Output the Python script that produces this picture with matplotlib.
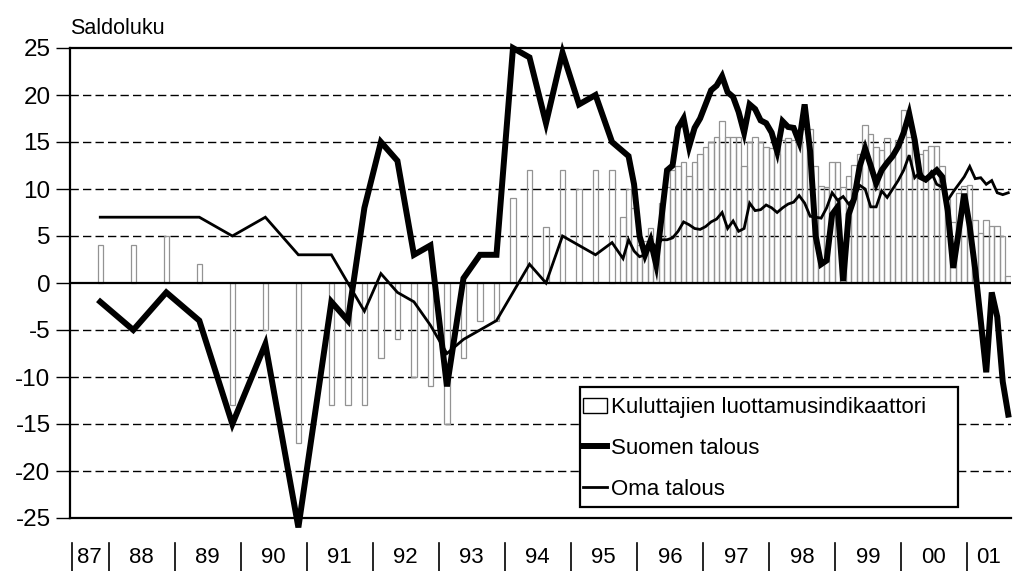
import matplotlib
matplotlib.use('Agg')
import matplotlib.pyplot as plt
import matplotlib.transforms as mtransforms
from matplotlib.patches import Patch, Rectangle
from matplotlib.lines import Line2D
import pandas as pd

plt.rcParams['font.family'] = ['Liberation Sans', 'DejaVu Sans']

# ---------------- data ----------------
early_months = ['1987-11', '1988-05', '1988-11', '1989-05', '1989-11', '1990-05',
                '1990-11', '1991-05', '1991-08', '1991-11', '1992-02', '1992-05',
                '1992-08', '1992-11', '1993-02', '1993-05', '1993-08', '1993-11',
                '1994-02', '1994-05', '1994-08', '1994-11', '1995-02', '1995-05',
                '1995-08']
monthly_months = [str(p) for p in pd.period_range('1995-10', '2001-08', freq='M')]

luottamus_early = [4, 4, 5, 2, -13, -5, -17, -13, -13, -13, -8, -6, -10, -11, -15,
                   -8, -4, -4, 9, 12, 6, 12, 10, 12, 12]
luottamus_monthly = [
    7, 10, 8,                                                   # 1995 Oct-Dec
    4, 4.5, 5.8, 4, 8.5, 10.2, 12, 12.4, 12.9, 11.4, 12.9, 13.7,  # 1996
    14.5, 15, 15.5, 17.2, 15.5, 15.5, 15.5, 12.4, 15, 15.5, 15, 14.5,  # 1997
    14.4, 13.7, 15.2, 15.4, 15.2, 15.5, 16.4, 16.4, 12.4, 10.3, 10.2, 12.9,  # 1998
    12.9, 10.2, 11.4, 12.6, 13.7, 16.8, 15.9, 14.5, 14.2, 15.4, 13.7, 15.2,  # 1999
    18.4, 15.5, 14.5, 13.7, 14.2, 14.6, 14.6, 12.5, 8.9, 6.5, 9.6, 10.3,  # 2000
    10.4, 6.7, 5.3, 6.7, 6.1, 6.1, 5.0, 0.7]                     # 2001 Jan-Aug

suomen_early = [-2, -5, -1, -4, -15, -6.5, -26, -2, -4, 8, 15, 13, 3, 4, -11,
                0.5, 3, 3, 25, 24, 17, 24.5, 19, 20, 15]
suomen_monthly = [
    14, 13.5, 10.5,
    5, 3, 4.5, 2, 7, 12, 12.5, 16.5, 17.5, 14.5, 16.5, 17.5,
    19, 20.5, 21, 22, 20.3, 19.8, 18.2, 16, 19, 18.5, 17.3, 17,
    16, 14, 17.2, 16.6, 16.5, 15, 19, 14, 5, 2, 2.4, 7.3,
    8.1, 0.2, 7.3, 9, 12.4, 14.3, 12.5, 10.6, 12, 12.8, 13.5, 14.5,
    16, 18, 15.2, 11.3, 11, 11.5, 12, 11.3, 7.7, 1.6, 5.5, 9.5,
    6, 1.4, -4, -9.5, -1, -3.6, -10.5, -14]

oma_early = [7, 7, 7, 7, 5, 7, 3, 3, 0, -3, 1, -1, -2, -4.5, -7.5, -6, -5, -4,
             -1, 2, 0, 5, 4, 3, 4.3]
oma_monthly = [
    2.6, 4.6, 3.4,
    2.8, 3.0, 4.5, 3.8, 4.6, 4.6, 4.8, 5.5, 6.5, 6.2, 5.8, 5.7,
    6.0, 6.5, 6.8, 7.5, 5.8, 6.6, 5.5, 5.8, 8.5, 7.7, 7.8, 8.3,
    8.0, 7.5, 8.0, 8.4, 8.6, 9.3, 8.5, 7.1, 7.0, 6.9, 8.0, 9.6,
    8.8, 9.2, 8.4, 9.0, 10.4, 10.0, 8.1, 8.1, 9.8, 9.1, 10.0, 10.9,
    12.0, 13.6, 11.2, 11.8, 10.9, 11.8, 10.5, 10.2, 8.8, 9.7, 10.5, 11.3,
    12.4, 11.1, 11.2, 10.5, 10.9, 9.6, 9.4, 9.6]

year_labels = ['87', '88', '89', '90', '91', '92', '93', '94', '95', '96', '97',
               '98', '99', '00', '01']
y_ticks = [25, 20, 15, 10, 5, 0, -5, -10, -15, -20, -25]

series_names = ['Kuluttajien luottamusindikaattori', 'Suomen talous', 'Oma talous']
y_title = 'Saldoluku'

# ---------------- helpers ----------------
def month_index(s):
    y, m = s.split('-')
    return (int(y) - 1988) * 12 + (int(m) - 1)

months = early_months + monthly_months
idx = [month_index(s) for s in months]
xc = [i + 0.5 for i in idx]
luottamus = luottamus_early + luottamus_monthly
suomen = suomen_early + suomen_monthly
oma = oma_early + oma_monthly

x_start = month_index('1987-06')
x_end = month_index('2001-08') + 1

# ---------------- figure ----------------
W, H = 1014, 571
fig = plt.figure(figsize=(W / 100, H / 100), dpi=100)
L, R, T, B = 70, 1011, 48, 518
ax = fig.add_axes([L / W, 1 - B / H, (R - L) / W, (B - T) / H])
ax.set_xlim(x_start, x_end)
ax.set_ylim(-25, 25)

for v in y_ticks:
    if v in (25, -25, 0):
        continue
    ax.axhline(v, color='black', lw=1.0, ls=(0, (6, 3)), zorder=1)
ax.axhline(0, color='black', lw=1.6, zorder=3)

ax.bar(idx, luottamus, width=1.0, align='edge', facecolor='none',
       edgecolor='#939393', linewidth=0.9, zorder=2)

ax.plot(xc, oma, color='black', lw=2.0, zorder=4, solid_joinstyle='miter',
        clip_on=False)
ax.plot(xc, suomen, color='black', lw=4.3, zorder=5, solid_joinstyle='miter',
        clip_on=False)

ax.spines['right'].set_visible(False)
for side in ('left', 'top', 'bottom'):
    ax.spines[side].set_linewidth(1.6)
    ax.spines[side].set_color('black')

ax.set_xticks([])
ax.set_yticks(y_ticks)
ax.set_yticklabels([str(v) for v in y_ticks])
ax.tick_params(axis='y', direction='out', length=10, width=1.0, pad=4,
               labelsize=17.5, colors='black')

# year labels & separators under axis
trans = mtransforms.blended_transform_factory(ax.transData, ax.transAxes)
bounds = [x_start] + [month_index(f'{y}-01') for y in range(1988, 2002)] + [x_end]
for i, lab in enumerate(year_labels):
    c = (bounds[i] + bounds[i + 1]) / 2
    ax.text(c, -0.083, lab, transform=trans, ha='center', va='center',
            fontsize=16, color='black')
for b in bounds[:-1]:
    xb = b + 0.3 if b == x_start else b
    ax.add_line(Line2D([xb, xb], [-0.053, -0.113], transform=trans,
                       color='black', lw=1.2, clip_on=False))

fig.text(L / W, 1 - 28 / H, y_title, ha='left', va='center', fontsize=15.5,
         color='black')

# legend: frame drawn to the reference box, entries placed inside
def ax_frac(px, py):
    return ((px - L) / (R - L), (B - py) / (B - T))

x0, y0 = ax_frac(580, 507)
x1, y1 = ax_frac(958, 387)
ax.add_patch(Rectangle((x0, y0), x1 - x0, y1 - y0, transform=ax.transAxes,
                       facecolor='white', edgecolor='black', lw=1.6, zorder=9,
                       clip_on=False))
handles = [Patch(facecolor='white', edgecolor='black', linewidth=1.0),
           Line2D([], [], color='black', lw=4.3),
           Line2D([], [], color='black', lw=2.0)]
leg = ax.legend(handles, series_names, loc='upper left',
                bbox_to_anchor=ax_frac(583, 397),
                fontsize=16, frameon=False, handlelength=1.1, handleheight=0.65,
                handletextpad=0.15, borderpad=0.0, labelspacing=0.9,
                borderaxespad=0)
leg.set_zorder(10)

fig.savefig('out.png', dpi=100)
